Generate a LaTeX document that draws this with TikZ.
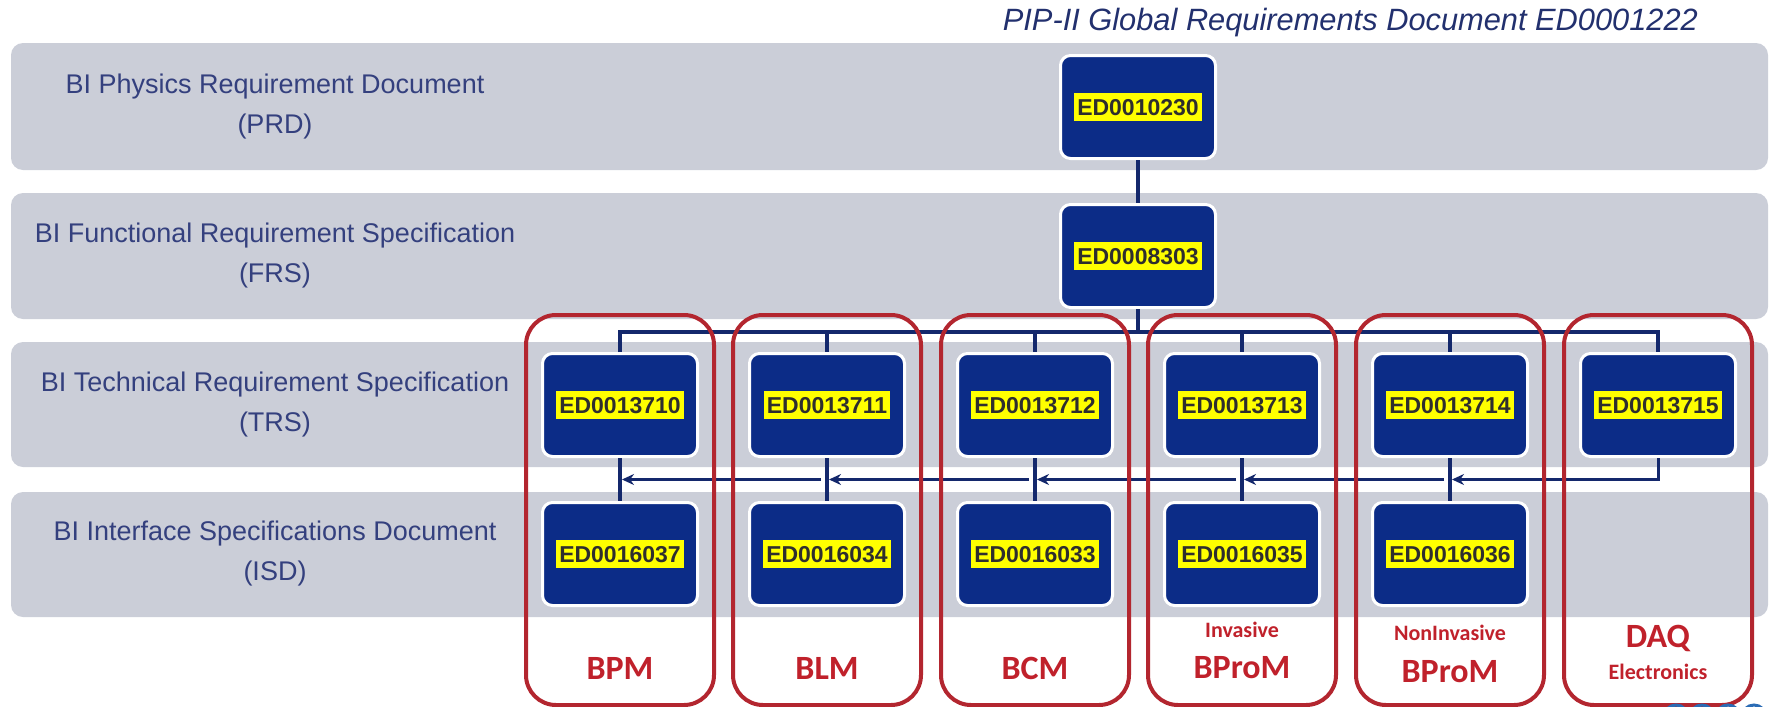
\documentclass[tikz,border=0pt]{standalone}
\usepackage{fontspec}
\setmainfont{Liberation Sans}
\newfontfamily\calibri{Carlito}
\usepackage{xcolor}
\usetikzlibrary{arrows.meta,calc,positioning}
\definecolor{bandgray}{HTML}{CBCED8}
\definecolor{docblue}{HTML}{0C2C87}
\definecolor{linkblue}{HTML}{14286C}
\definecolor{labelblue}{HTML}{34407E}
\definecolor{titleblue}{HTML}{22306E}
\definecolor{edyellow}{HTML}{FFFF00}
\definecolor{grpred}{HTML}{B3262F}
\definecolor{txtred}{HTML}{C0212B}
\definecolor{logoblue}{HTML}{2B6CB5}
\newcommand{\edtag}[1]{{\setlength{\fboxsep}{0pt}\colorbox{edyellow}{\rule[-3pt]{0pt}{14pt}\hspace{1.5pt}#1\hspace{1.5pt}}}}

\begin{document}
\begin{tikzpicture}[x=0.5pt, y=-0.5pt,
    docbox/.style={draw=white, line width=1.5pt, fill=docblue, rounded corners=5pt,
      minimum width=77.5pt, minimum height=51.5pt, inner sep=0pt,
      text=black!82, font=\fontsize{11.5}{12}\selectfont\bfseries},
    bandlbl/.style={align=center, text=labelblue, font=\fontsize{13.5}{20}\selectfont},
    grpbox/.style={draw=grpred, line width=2pt, rounded corners=15pt,
      minimum width=94pt, minimum height=195pt},
    grplbl/.style={text=txtred, font=\calibri\bfseries\fontsize{17}{20}\selectfont},
    grpsub/.style={text=txtred, font=\calibri\bfseries\fontsize{11}{13}\selectfont},
    link/.style={draw=linkblue, line width=2pt},
    flow/.style={draw=linkblue, line width=1.5pt, -{Stealth[length=6pt,width=5.5pt]}}]

    \useasboundingbox (0,0) rectangle (1774,707);
    \clip (0,0) rectangle (1774,707);

    % Bands
    \foreach \ya/\yb in {43/170,193/319,342/467,492/617}
        \fill[bandgray, rounded corners=6pt] (11,\ya) rectangle (1768,\yb);

    \node[anchor=east, text=titleblue, font=\itshape\fontsize{15.4}{18}\selectfont] (title) at (1705,23)
        {PIP-II Global Requirements Document ED0001222};

    \node[bandlbl] (lprd) at (275,107) {BI Physics Requirement Document\\(PRD)};
    \node[bandlbl] (lfrs) at (275,256) {BI Functional Requirement Specification\\(FRS)};
    \node[bandlbl] (ltrs) at (275,405) {BI Technical Requirement Specification\\(TRS)};
    \node[bandlbl] (lisd) at (275,554) {BI Interface Specifications Document\\(ISD)};

    % Documents
    \node[docbox] (prd) at (1138,107) {\edtag{ED0010230}};
    \node[docbox] (frs) at (1138,256) {\edtag{ED0008303}};
    \foreach \n/\x/\id in {1/620/ED0013710,2/827/ED0013711,3/1035/ED0013712,
                           4/1242/ED0013713,5/1450/ED0013714,6/1658/ED0013715}
        \node[docbox] (trs\n) at (\x,405) {\edtag{\id}};
    \foreach \n/\x/\id in {1/620/ED0016037,2/827/ED0016034,3/1035/ED0016033,
                           4/1242/ED0016035,5/1450/ED0016036}
        \node[docbox] (isd\n) at (\x,554) {\edtag{\id}};

    % Tree
    \coordinate (bus) at (1138,332);
    \draw[link] (prd) -- (frs);
    \draw[link] (frs) -- (bus);
    \draw[link] (trs1.north) |- (bus) -| (trs6.north);
    \foreach \n in {2,...,5}
        \draw[link] (trs\n.north |- bus) -- (trs\n);
    \foreach \n in {1,...,5} {
        \draw[link] (trs\n) -- (isd\n);
        \path ($(trs\n.south)!0.5!(isd\n.north)$) coordinate (m\n);
    }

    % Arrows
    \draw[flow] (trs6) |- ([xshift=1pt]m5);
    \foreach \n [evaluate=\n as \p using int(\n-1)] in {5,4,3,2}
        \draw[flow] ([xshift=-3pt]m\n) -- ([xshift=1pt]m\p);

    % Groups
    \coordinate (gmid) at (0,510);
    \foreach \n in {1,...,6}
        \node[grpbox] (g\n) at (trs\n |- gmid) {};

    \node[grplbl] (bpm) at (620,668) {BPM};
    \node[grplbl] (blm) at (827,668) {BLM};
    \node[grplbl] (bcm) at (1035,668) {BCM};
    \node[grpsub] (inv) at (1242,630) {Invasive};
    \node[grplbl] (bprom) at (1242,668) {BProM};
    \node[grpsub] (noninv) at (1450,633) {NonInvasive};
    \node[grplbl] (nbprom) at (1450,672) {BProM};
    \node[grplbl] (daq) at (1658,638) {DAQ};
    \node[grpsub] (elec) at (1658,672) {Electronics};

    % Logo edge
    \foreach \x in {1676,1702,1728,1754}
        \draw[logoblue, line width=1.5pt] (\x,717) circle[radius=12];

\end{tikzpicture}
\end{document}
